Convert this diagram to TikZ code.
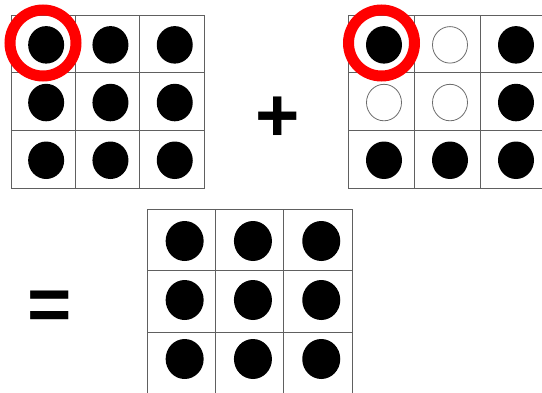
\documentclass[tikz,border=0pt]{standalone}
\usepackage{fontspec}
\setmainfont{Liberation Sans}
\usetikzlibrary{positioning,shapes.geometric}

\begin{document}
\begin{tikzpicture}[x=1pt, y=-1pt,
  cell/.style={rectangle, draw=gray!75!black, line width=0.8pt, inner sep=0pt},
  dot/.style={ellipse, fill=black, inner sep=0pt, minimum width=36pt, minimum height=37.5pt},
  hole/.style={ellipse, draw=gray!85!black, fill=white, line width=0.8pt, inner sep=0pt, minimum width=35pt, minimum height=36.5pt},
  ring/.style={circle, draw=red, line width=11pt, minimum size=66pt, inner sep=0pt},
  sign/.style={font=\fontsize{76}{76}\selectfont\bfseries, inner sep=0pt}
]
\useasboundingbox (0,0) rectangle (542,392);
\clip (0,0) rectangle (542,392);

% Matriz A
\foreach \r in {1,2,3}
  \foreach \c in {1,2,3} {
    \node[cell, minimum width=64.3pt, minimum height=57.7pt] (a\r\c) at ({11+64.3*(\c-0.5)},{15+57.7*(\r-0.5)}) {};
    \node[dot] (da\r\c) at ({14+64.3*(\c-0.5)},{16+57.7*(\r-0.5)}) {};
  }

% Matriz B
\foreach \r/\c/\s in {1/1/dot,1/2/hole,1/3/dot,2/1/hole,2/2/hole,2/3/dot,3/1/dot,3/2/dot,3/3/dot} {
  \node[cell, minimum width=66pt, minimum height=57.7pt] (b\r\c) at ({348+66*(\c-0.5)},{15+57.7*(\r-0.5)}) {};
  \node[\s] (db\r\c) at ({351+66*(\c-0.5)},{16+57.7*(\r-0.5)}) {};
}

% Resultado
\foreach \r in {1,2,3}
  \foreach \c in {1,2,3} {
    \node[cell, minimum width=68.3pt, minimum height=61.5pt] (c\r\c) at ({147+68.3*(\c-0.5)},{209+61.5*(\r-0.5)}) {};
    \node[dot, minimum width=38pt, minimum height=40pt] (dc\r\c) at ({150.5+68.3*(\c-0.5)},{211.5+59*(\r-0.5)}) {};
  }

% Marcas
\node[ring] (ra) at (43,43) {};
\node[ring] (rb) at (381.5,43) {};

% Signos
\node[sign] (plus) at (277.5,119) {+};
\node[sign] (eq) at (50,310.5) {=};
\end{tikzpicture}
\end{document}
